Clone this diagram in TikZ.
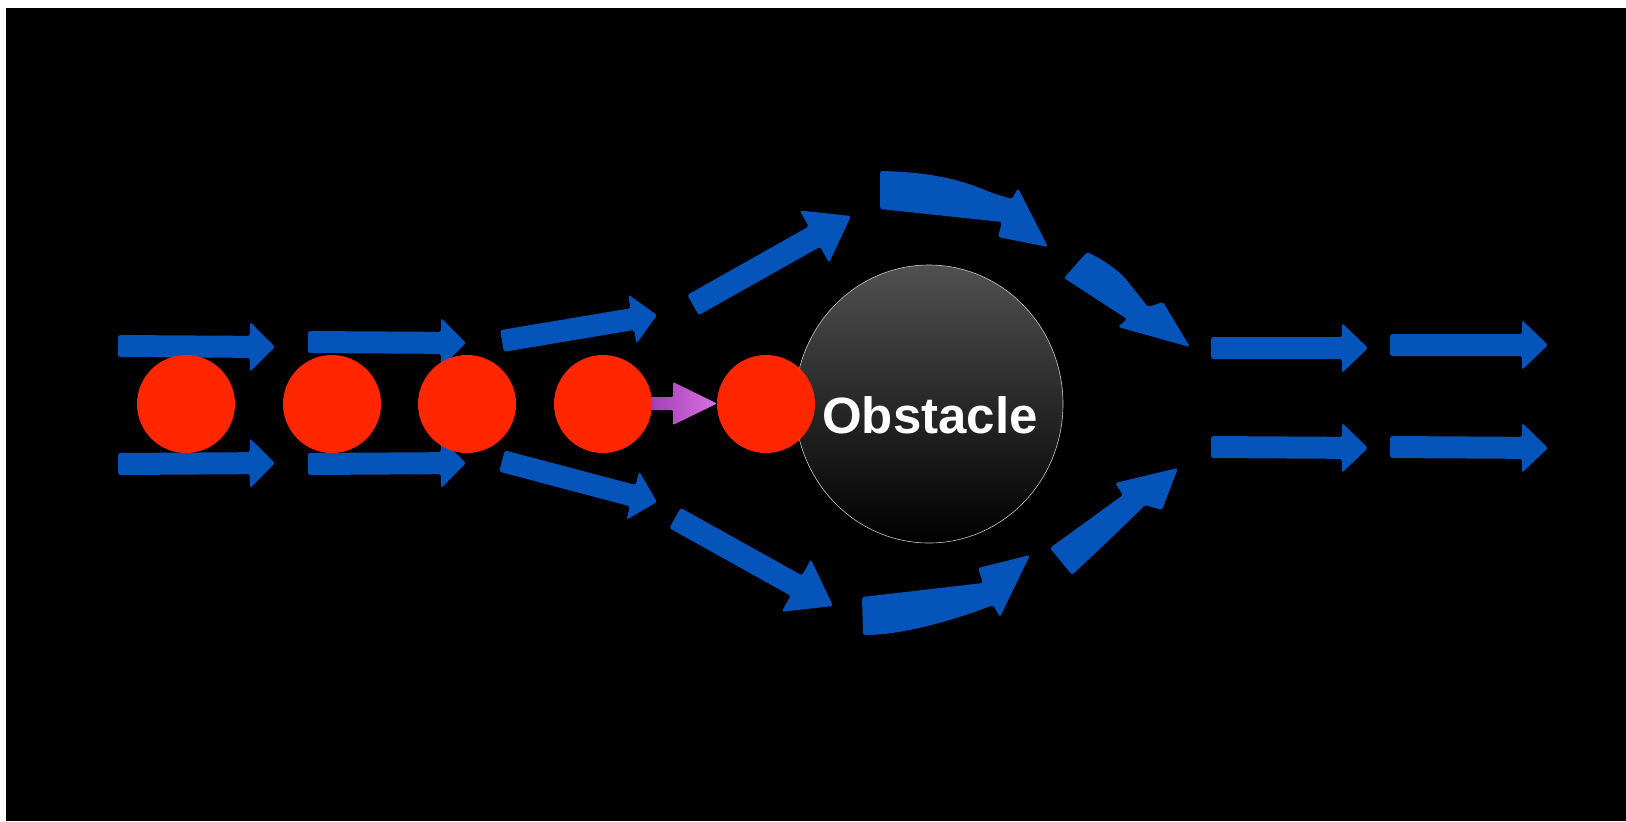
\documentclass[tikz,border=0pt]{standalone}
\usetikzlibrary{calc,shapes.geometric}
\usepackage{fontspec}
\newfontfamily\obsfont{Liberation Sans}
\definecolor{flowblue}{RGB}{4,84,186}
\definecolor{ballred}{RGB}{255,38,0}
\definecolor{pushA}{RGB}{165,60,180}
\definecolor{pushB}{RGB}{215,115,228}
\definecolor{obsgray}{RGB}{80,80,80}
\definecolor{obsmid}{RGB}{10,10,10}
\newcommand{\blockarrow}[6]{%
  \coordinate (bA) at #2; \coordinate (bB) at #3;
  \coordinate (bC) at ($(bB)!#6!(bA)$);
  \path[#1] ($(bA)!#4!-90:(bB)$) -- ($(bC)!#4!90:(bA)$) -- ($(bC)!#5!90:(bA)$) -- (bB)
    -- ($(bC)!#5!-90:(bA)$) -- ($(bC)!#4!-90:(bA)$) -- ($(bA)!#4!90:(bB)$) -- cycle;}
\begin{document}
\begin{tikzpicture}[x=0.5pt,y=-0.5pt,
  flow/.style={fill=flowblue, rounded corners=1.2pt},
  ball/.style={circle, fill=ballred, minimum size=49pt, inner sep=0pt},
  push/.style={left color=pushA, right color=pushB, rounded corners=0.6pt},
  obst/.style={ellipse, minimum width=134pt, minimum height=139pt, inner sep=0pt,
    top color=obsgray, middle color=obsmid, bottom color=black, draw=gray!45, line width=0.3pt},
  obstext/.style={text=white, font=\obsfont\bfseries\fontsize{25.5pt}{30pt}\selectfont, inner sep=0pt}]
\useasboundingbox (0,0) rectangle (1626,821);
\fill[white] (0,0) rectangle (1626,821);
\fill[black] (6,8) rectangle (1626,821);
% straight flow arrows
\blockarrow{flow}{(118,346)}{(275,347)}{5.5pt}{12.5pt}{12.5pt}
\blockarrow{flow}{(118,464)}{(275,463)}{5.5pt}{12.5pt}{12.5pt}
\blockarrow{flow}{(308,342)}{(466,343)}{5.5pt}{12.5pt}{12.5pt}
\blockarrow{flow}{(308,464)}{(466,463)}{5.5pt}{12.5pt}{12.5pt}
\blockarrow{flow}{(502,341)}{(657,315)}{5.5pt}{12.5pt}{12.5pt}
\blockarrow{flow}{(502,461)}{(657,502)}{5.5pt}{12.5pt}{12.5pt}
\blockarrow{flow}{(693,305)}{(851,216)}{5.8pt}{15pt}{21pt}
\blockarrow{flow}{(675,518)}{(833,606)}{5.8pt}{15pt}{21pt}
\blockarrow{flow}{(1211,348)}{(1368,348)}{5.5pt}{12.5pt}{13pt}
\blockarrow{flow}{(1390,345)}{(1548,345)}{5.5pt}{12.5pt}{13pt}
\blockarrow{flow}{(1211,447)}{(1368,448)}{5.5pt}{12.5pt}{13pt}
\blockarrow{flow}{(1390,447)}{(1548,448)}{5.5pt}{12.5pt}{13pt}
% curved flow arrows around the obstacle
\path[flow] (880,171) .. controls (925,172) and (955,178) .. (985,190)
  .. controls (995,194) .. (1012,199) -- (1018,188) -- (1048,247) -- (998,237)
  -- (1002,222) -- (880,209) -- cycle;
\path[flow] (1087,252) .. controls (1100,258) and (1115,268) .. (1125,278)
  -- (1148,307) -- (1163,302) -- (1190,347) -- (1118,327) -- (1127,319)
  -- (1064,278) -- cycle;
\path[flow] (862,597) -- (983,583) -- (978,568) -- (1030,555) -- (1000,617) -- (993,605)
  .. controls (960,618) and (905,635) .. (863,635) -- cycle;
\path[flow] (1050,548) -- (1123,495) -- (1115,483) -- (1178,468) -- (1162,510) -- (1145,505)
  .. controls (1135,515) and (1120,530) .. (1072,575) -- cycle;
% push arrow
\blockarrow{push}{(650,403.5)}{(717,403.5)}{3.25pt}{10.75pt}{22pt}
% obstacle and balls
\node[obst] (obs) at (929,404) {};
\node[ball] (b1) at (186,404) {};
\node[ball] (b2) at (332,404) {};
\node[ball] (b3) at (467,404) {};
\node[ball] (b4) at (603,404) {};
\node[ball] (b5) at (766,404) {};
\node[obstext, anchor=base] (lbl) at (930,433) {Obstacle};
\end{tikzpicture}
\end{document}
